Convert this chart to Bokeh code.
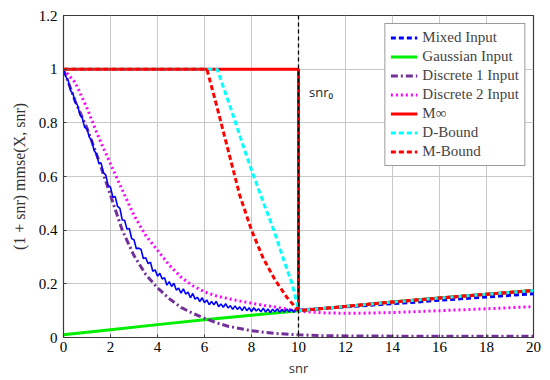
import numpy as np
from bokeh.plotting import figure
from bokeh.models import Span, Legend, LegendItem, CustomJSTickFormatter, FixedTicker, Label
from bokeh.embed import file_html
from bokeh.resources import INLINE

# ---- data ----
mixed_lo_snr = np.round(np.linspace(0, 10, 101), 1)
mixed_lo_val = [1.000, 0.972, 0.958, 0.920, 0.909, 0.877, 0.865, 0.830, 0.818, 0.783,
                0.778, 0.746, 0.735, 0.697, 0.685, 0.650, 0.650, 0.614, 0.605, 0.567,
                0.560, 0.523, 0.525, 0.489, 0.481, 0.438, 0.437, 0.404, 0.406, 0.369,
                0.364, 0.331, 0.333, 0.328, 0.294, 0.297, 0.275, 0.281, 0.247, 0.252,
                0.228, 0.239, 0.218, 0.223, 0.195, 0.208, 0.190, 0.202, 0.177, 0.184,
                0.165, 0.181, 0.162, 0.169, 0.148, 0.164, 0.143, 0.150, 0.134, 0.148,
                0.130, 0.140, 0.122, 0.134, 0.122, 0.135, 0.115, 0.125, 0.113, 0.126,
                0.110, 0.119, 0.105, 0.118, 0.105, 0.114, 0.100, 0.115, 0.100, 0.111,
                0.097, 0.111, 0.099, 0.107, 0.096, 0.109, 0.095, 0.106, 0.093, 0.105,
                0.096, 0.107, 0.094, 0.104, 0.095, 0.106, 0.096, 0.105, 0.094, 0.104,
                0.102]
mixed_hi_snr = [11, 12, 13, 14, 15, 16, 17, 18, 19, 20]
mixed_hi_val = [0.108, 0.114, 0.120, 0.126, 0.132, 0.139, 0.145, 0.151, 0.157, 0.163]

gauss_snr = [0, 2, 4, 6, 8, 10, 12, 14, 16, 18, 20]
gauss_val = [0.010, 0.029, 0.048, 0.066, 0.083, 0.100, 0.116, 0.132, 0.147, 0.161, 0.175]

disc1_snr = [0, 0.5, 1, 1.5, 2, 2.5, 3, 3.5, 4, 4.5, 5, 5.5, 6, 6.5, 7, 8, 9, 10, 11, 12, 14, 16, 18, 20]
disc1_val = [1.0, 0.88, 0.78, 0.66, 0.53, 0.40, 0.305, 0.235, 0.185, 0.145, 0.112, 0.09, 0.072,
             0.055, 0.042, 0.025, 0.015, 0.010, 0.007, 0.006, 0.005, 0.005, 0.005, 0.005]

disc2_snr = [0, 0.5, 1, 1.5, 2, 2.5, 3, 3.5, 4, 4.5, 5, 5.5, 6, 6.5, 7, 7.5, 8, 8.5, 9, 9.5,
             10, 11, 12, 13, 14, 16, 18, 20]
disc2_val = [1.0, 0.95, 0.855, 0.745, 0.647, 0.55, 0.455, 0.38, 0.325, 0.27, 0.225, 0.193, 0.17,
             0.155, 0.145, 0.136, 0.128, 0.12, 0.114, 0.106, 0.098, 0.092, 0.090, 0.091,
             0.093, 0.100, 0.107, 0.115]

minf_snr = [0, 10, 10, 12, 14, 16, 18, 20]
minf_val = [1, 1, 0.1, 0.116, 0.132, 0.147, 0.161, 0.175]

dbound_snr = [0, 6.54, 7.25, 7.7, 8.1, 8.52, 8.95, 9.37, 9.73, 9.94, 10, 12, 14, 16, 18, 20]
dbound_val = [1, 1, 0.82, 0.7, 0.6, 0.5, 0.4, 0.29, 0.2, 0.126, 0.1, 0.116, 0.132, 0.147, 0.161, 0.175]

mbound_snr = [0, 6.1, 6.5, 7.0, 7.5, 8.0, 8.5, 9.0, 9.5, 10, 12, 14, 16, 18, 20]
mbound_val = [1, 1, 0.87, 0.70, 0.53, 0.40, 0.295, 0.215, 0.15, 0.1,
              0.116, 0.132, 0.147, 0.161, 0.175]

snr0 = 10
x_ticks = [0, 2, 4, 6, 8, 10, 12, 14, 16, 18, 20]
y_ticks = [0, 0.2, 0.4, 0.6, 0.8, 1.0, 1.2]

SERIF = "Liberation Serif"
SANS = "Open Sans"

p = figure(frame_width=470, frame_height=322, x_range=(0, 20), y_range=(0, 1.2),
           output_backend="svg", toolbar_location=None,
           min_border_left=63, min_border_right=10, min_border_top=15, min_border_bottom=20)

p.background_fill_color = "white"
p.outline_line_color = "#3a3a3a"
p.outline_line_width = 1.2
p.xgrid.grid_line_color = "#c8c8c8"
p.ygrid.grid_line_color = "#c8c8c8"
p.xgrid.grid_line_width = 1
p.ygrid.grid_line_width = 1

p.xaxis.ticker = FixedTicker(ticks=x_ticks)
p.yaxis.ticker = FixedTicker(ticks=y_ticks)
p.yaxis.formatter = CustomJSTickFormatter(code="return (Math.round(tick*10)/10).toString();")
for ax in (p.xaxis, p.yaxis):
    ax.major_label_text_font = SERIF
    ax.major_label_text_font_size = "15px"
    ax.major_label_text_color = "black"
    ax.axis_line_color = "#3a3a3a"
    ax.major_tick_line_color = "#3a3a3a"
    ax.major_tick_out = 0
    ax.major_tick_in = 3
    ax.minor_tick_line_color = None
    ax.axis_label_text_font_style = "normal"
    ax.axis_label_text_color = "#333333"
p.xaxis.major_label_standoff = 4
p.yaxis.major_label_standoff = 6
p.xaxis.axis_label = "snr"
p.xaxis.axis_label_text_font = SANS
p.xaxis.axis_label_text_font_size = "13px"
p.xaxis.axis_label_standoff = 4
p.yaxis.axis_label = "(1 + snr) mmse(X, snr)"
p.yaxis.axis_label_text_font = SERIF
p.yaxis.axis_label_text_font_size = "16px"
p.yaxis.axis_label_standoff = 8

r_gauss = p.line(gauss_snr, gauss_val, line_color="#00ee00", line_width=3)
r_d1 = p.line(disc1_snr, disc1_val, line_color="#74309a", line_width=3, line_dash="7 3 2 3")
r_d2 = p.line(disc2_snr, disc2_val, line_color="#ff00ff", line_width=3, line_dash="2 3")
r_mix_lo = p.line(list(mixed_lo_snr), mixed_lo_val, line_color="#0000ff", line_width=1.6)
r_mix_hi = p.line([10] + mixed_hi_snr, [mixed_lo_val[-1]] + mixed_hi_val, line_color="#0000ff",
                  line_width=3, line_dash="5 3")
r_minf = p.line(minf_snr, minf_val, line_color="#ff0000", line_width=3)
r_db = p.line(dbound_snr, dbound_val, line_color="#00ffff", line_width=3, line_dash="5 3")
r_mb = p.line(mbound_snr, mbound_val, line_color="#ff0000", line_width=3, line_dash="5 3")

p.add_layout(Span(location=snr0, dimension="height", line_color="black",
                  line_width=1.3, line_dash="4 3"))
p.add_layout(Label(x=10.45, y=0.915, text="snr₀", text_font=SANS, text_font_size="13px",
                   text_color="#222222", text_baseline="middle"))

legend = Legend(items=[
    LegendItem(label="Mixed Input", renderers=[r_mix_hi]),
    LegendItem(label="Gaussian Input", renderers=[r_gauss]),
    LegendItem(label="Discrete 1 Input", renderers=[r_d1]),
    LegendItem(label="Discrete 2 Input", renderers=[r_d2]),
    LegendItem(label="M∞", renderers=[r_minf]),
    LegendItem(label="D-Bound", renderers=[r_db]),
    LegendItem(label="M-Bound", renderers=[r_mb]),
], location="top_right")
legend.label_text_font = SERIF
legend.label_text_font_size = "15px"
legend.label_height = 15
legend.glyph_height = 15
legend.glyph_width = 27
legend.spacing = 2
legend.padding = 5
legend.margin = 8
legend.label_standoff = 5
legend.border_line_color = "#3a3a3a"
legend.border_line_width = 1
legend.background_fill_alpha = 1
p.add_layout(legend)

open("out.html", "w").write(file_html(p, INLINE))
